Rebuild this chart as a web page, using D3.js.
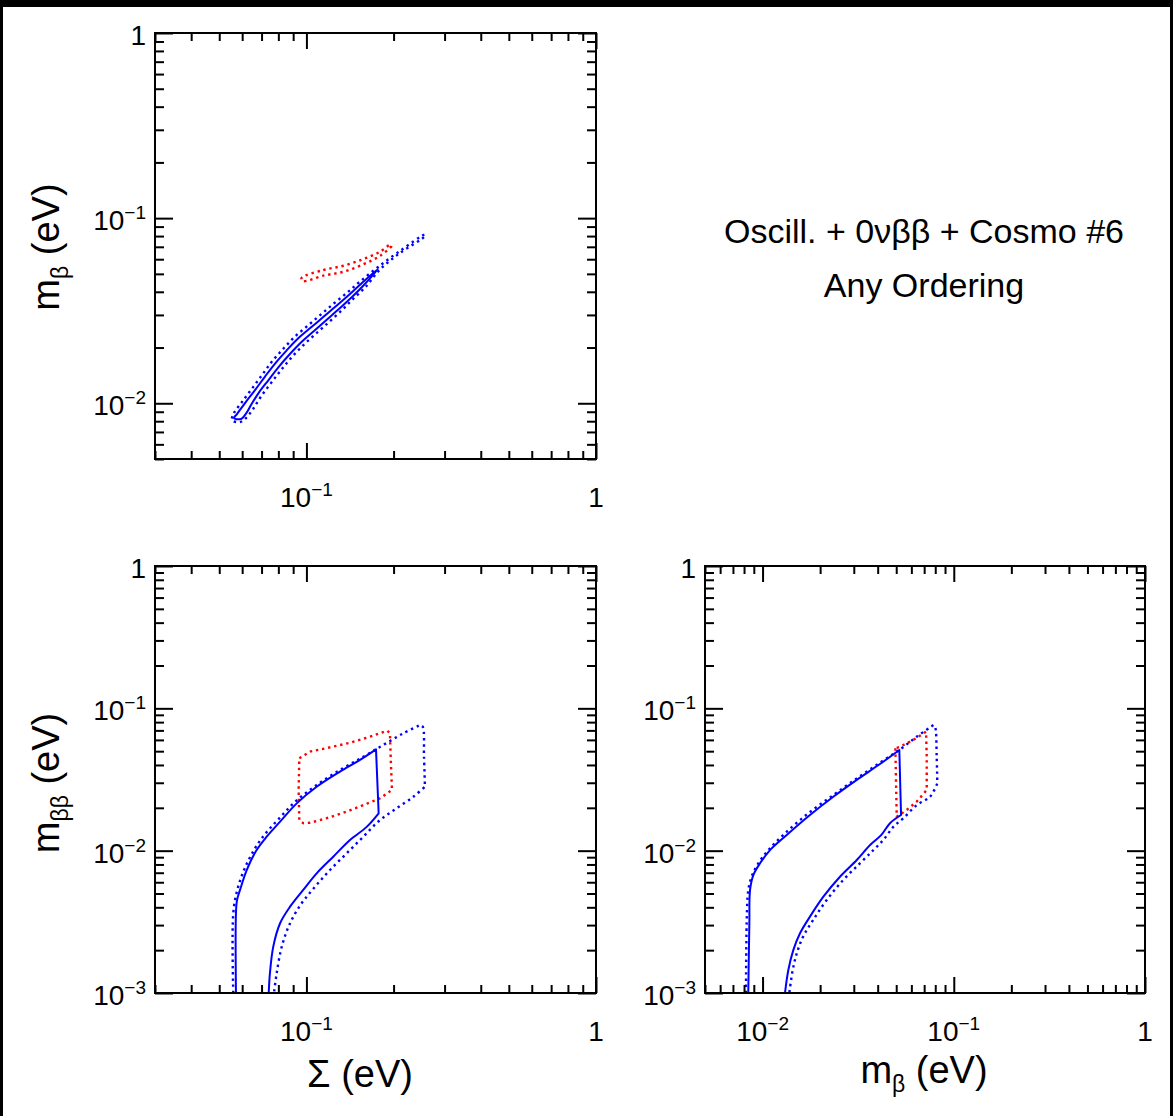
<!DOCTYPE html>
<html><head><meta charset="utf-8">
<script src="https://cdn.jsdelivr.net/npm/d3@7"></script>
<style>html,body{margin:0;padding:0;background:#fff;} svg{display:block;} text{font-family:"Liberation Sans",Arial,Helvetica,sans-serif;fill:#000;}</style>
</head><body><svg id="c" width="1173" height="1116"></svg>
<script>
// ---------------- DATA ----------------
// Top panel: m_beta vs Sigma
const topNOsolidSum = [0.05622,0.05757,0.06137,0.06645,0.07194,0.07792,0.08535,0.09352,0.1041,0.1159,0.1285,0.1414,0.1555,0.1767,
  0.1568,0.1437,0.1306,0.1178,0.1062,0.09577,0.0874,0.08012,0.07396,0.06833,0.06437,0.06235,0.05943];
const topNOsolidMb  = [0.00832,0.00874,0.01003,0.01178,0.01394,0.01639,0.01926,0.02236,0.0258,0.02977,0.03413,0.0389,0.04461,0.05309,
  0.04297,0.03748,0.03268,0.02833,0.02455,0.02128,0.01833,0.01569,0.01335,0.01135,0.00978,0.00896,0.00822];
const topNOdotSum = [0.05534,0.05622,0.0599,0.06486,0.07025,0.07603,0.08333,0.09131,0.1017,0.1132,0.1255,0.1391,0.1531,0.1767,0.2103,0.2566,
  0.2566,0.2103,0.1795,0.1593,0.1448,0.1327,0.1197,0.1079,0.0973,0.08845,0.08171,0.07543,0.06967,0.0654,0.06185,0.05897];
const topNOdotMb  = [0.00811,0.00885,0.01015,0.012,0.0142,0.0168,0.01975,0.02293,0.02646,0.03052,0.035,0.03989,0.04545,0.05441,0.06645,0.08153,
  0.08003,0.06481,0.05277,0.04218,0.03656,0.03188,0.02746,0.02379,0.0205,0.01754,0.01511,0.01285,0.01087,0.0093,0.00832,0.00791];
const topIOdotSum = [0.0963,0.1143,0.134,0.1572,0.1795,0.1943,0.197,0.1795,0.1572,0.134,0.1143,0.097];
const topIOdotMb  = [0.0476,0.0524,0.0553,0.0601,0.0658,0.0716,0.071,0.0626,0.0563,0.0513,0.0489,0.0457];

// Bottom-left panel: m_betabeta vs Sigma
const blNOsolidSum = [0.0571,0.0571,0.0576,0.0590,0.0622,0.0673,0.0729,0.0811,0.0926,0.1085,0.1306,0.1531,0.1739,
  0.1776,0.1615,0.1414,0.1238,0.1085,0.0975,0.0878,0.0811,0.0768,0.0748,0.0741];
const blNOsolidMbb = [0.001,0.00363,0.0045,0.0053,0.00731,0.0101,0.01254,0.0160,0.0215,0.0281,0.0359,0.0434,0.0515,
  0.0183,0.0147,0.01188,0.00907,0.00693,0.0053,0.00404,0.00309,0.00211,0.00137,0.001];
const blNOdotSum = [0.0559,0.0559,0.05771,0.06088,0.06592,0.07155,0.07999,0.09154,0.1085,0.1306,0.1572,0.1842,0.2160,0.2467,
  0.2521,0.2547,0.2566,0.2339,0.2049,0.1795,0.1572,0.1377,0.1206,0.1071,0.0963,0.0878,0.08216,0.07891,0.07727];
const blNOdotMbb = [0.001,0.00363,0.00529,0.00731,0.0101,0.0129,0.0166,0.02208,0.02893,0.03687,0.0457,0.05527,0.06677,0.07635,
  0.0743,0.0457,0.02814,0.0239,0.01985,0.0164,0.01253,0.00958,0.00731,0.00558,0.00427,0.00309,0.00211,0.00137,0.001];
const blIOdotSum = [0.0945,0.1029,0.1206,0.1414,0.1658,0.1902,0.1943,0.1954,0.1974,0.1795,0.1572,0.1377,0.1175,0.1029,0.0975,0.0945,0.0940];
const blIOdotMbb = [0.0446,0.0496,0.0532,0.0573,0.0632,0.0697,0.0668,0.0457,0.0267,0.0233,0.0209,0.0188,0.0169,0.0157,0.0156,0.0164,0.0267];

// Bottom-right panel: m_betabeta vs m_beta
const brNOsolidMb  = [0.00842,0.00853,0.0086,0.00895,0.0097,0.01094,0.01338,0.0177,0.02344,0.0311,0.0411,0.0519,
  0.0530,0.0464,0.0418,0.0365,0.0311,0.0254,0.0208,0.0177,0.0157,0.01448,0.01364,0.0131];
const brNOsolidMbb = [0.001,0.00309,0.00529,0.00674,0.00815,0.0101,0.0129,0.0178,0.0239,0.0314,0.0406,0.0510,
  0.0178,0.0156,0.0129,0.01096,0.0086,0.00656,0.00475,0.00344,0.00263,0.0020,0.00145,0.001];
const brNOdotMb  = [0.00819,0.00826,0.00842,0.00877,0.0095,0.01072,0.0131,0.01735,0.02344,0.0311,0.0411,0.0524,0.0640,0.0782,
  0.0798,0.0814,0.0820,0.0751,0.0640,0.0545,0.0483,0.0428,0.0380,0.0323,0.0264,0.02165,0.0184,0.0163,0.0151,0.01438,0.0138];
const brNOdotMbb = [0.001,0.00309,0.00529,0.00656,0.00815,0.0101,0.01324,0.0183,0.0246,0.0322,0.0415,0.0515,0.0632,0.0763,
  0.0743,0.0457,0.0297,0.0239,0.0209,0.0169,0.0147,0.01188,0.0101,0.00815,0.00622,0.0045,0.00326,0.00249,0.0019,0.00145,0.001];
const brIOdotMb  = [0.0495,0.0499,0.0503,0.0567,0.0640,0.0722,0.0722,0.0716,0.0614,0.0524];
const brIOdotMbb = [0.0524,0.0297,0.0173,0.0193,0.0221,0.0267,0.0457,0.0685,0.0599,0.0538];

// Tick label values
const topXLabels = [0.1, 1];
const topYLabels = [0.01, 0.1, 1];
const blXLabels = [0.1, 1];
const blYLabels = [0.001, 0.01, 0.1, 1];
const brXLabels = [0.01, 0.1, 1];
const brYLabels = [0.001, 0.01, 0.1, 1];

const titleLines = ["Oscill. + 0\u03BD\u03B2\u03B2 + Cosmo #6", "Any Ordering"];

// ---------------- DRAWING ----------------
const W = 1173, H = 1116;
const svg = d3.select("#c");
svg.append("rect").attr("width", W).attr("height", H).attr("fill", "#fff");
svg.append("rect").attr("x", 0).attr("y", 0).attr("width", W).attr("height", 7).attr("fill", "#000");
svg.append("rect").attr("x", 0).attr("y", 0).attr("width", 3).attr("height", H).attr("fill", "#000");
svg.append("rect").attr("x", W - 3).attr("y", 0).attr("width", 3).attr("height", H).attr("fill", "#000");

const BLUE = "#0000ff", RED = "#ff0000";
const isMajor = v => Math.abs(Math.log10(v) - Math.round(Math.log10(v))) < 1e-6;

function addTickLabel(g, px, py, v, anchor) {
  const t = g.append("text").attr("x", px).attr("y", py).attr("text-anchor", anchor)
    .style("font-size", "28px");
  if (Math.abs(v - 1) < 1e-9) { t.text("1"); return; }
  const e = Math.round(Math.log10(v));
  t.append("tspan").text("10");
  t.append("tspan").attr("dy", -11).style("font-size", "19px").text("\u2212" + Math.abs(e));
}

let clipN = 0;
function panel(cfg) {
  const x = d3.scaleLog().domain(cfg.xd).range([cfg.l, cfg.r]);
  const y = d3.scaleLog().domain(cfg.yd).range([cfg.b, cfg.t]);
  const g = svg.append("g");
  const id = "clip" + (clipN++);
  g.append("clipPath").attr("id", id).append("rect")
    .attr("x", cfg.l).attr("y", cfg.t).attr("width", cfg.r - cfg.l).attr("height", cfg.b - cfg.t);
  const cg = g.append("g").attr("clip-path", `url(#${id})`);
  cfg.curves.forEach(c => {
    const pts = d3.zip(c.xs, c.ys);
    const style = p => p.attr("fill", "none").attr("stroke", c.color)
      .attr("stroke-width", c.dotted ? 2.4 : 2)
      .attr("stroke-dasharray", c.dotted ? "2.4 3.8" : null)
      .attr("stroke-linejoin", "round");
    if (!c.smooth) {
      const line = d3.line().x(d => x(d[0])).y(d => y(d[1]))
        .curve(c.closed ? d3.curveLinearClosed : d3.curveLinear);
      style(cg.append("path").attr("d", line(pts)));
      return;
    }
    if (c.closed && !c.breaks) {
      const line = d3.line().x(d => x(d[0])).y(d => y(d[1])).curve(d3.curveCatmullRomClosed.alpha(0.5));
      style(cg.append("path").attr("d", line(pts)));
      return;
    }
    // open smooth curve split at sharp corners
    const idx = [0, ...(c.breaks || []), pts.length - 1];
    const line = d3.line().x(d => x(d[0])).y(d => y(d[1])).curve(d3.curveCatmullRom.alpha(0.5));
    let dStr = "";
    for (let k = 0; k < idx.length - 1; k++) {
      const seg = line(pts.slice(idx[k], idx[k + 1] + 1));
      dStr += k === 0 ? seg : seg.replace(/^M[^CLZ]*/, "");
    }
    style(cg.append("path").attr("d", dStr));
  });

  // ticks (inward, all 4 sides)
  const xt = x.ticks(), yt = y.ticks();
  const xMaj = xt.filter(isMajor), xMin = xt.filter(v => !isMajor(v));
  const yMaj = yt.filter(isMajor), yMin = yt.filter(v => !isMajor(v));
  const ax = (gen, tr) => {
    const a = g.append("g").attr("transform", tr).call(gen);
    a.select(".domain").remove();
    a.selectAll("line").attr("stroke", "#000").attr("stroke-width", 2);
  };
  ax(d3.axisBottom(x).tickValues(xMin).tickSize(-8).tickFormat(""), `translate(0,${cfg.b})`);
  ax(d3.axisBottom(x).tickValues(xMaj).tickSize(-16).tickFormat(""), `translate(0,${cfg.b})`);
  ax(d3.axisTop(x).tickValues(xMin).tickSize(-8).tickFormat(""), `translate(0,${cfg.t})`);
  ax(d3.axisTop(x).tickValues(xMaj).tickSize(-16).tickFormat(""), `translate(0,${cfg.t})`);
  ax(d3.axisLeft(y).tickValues(yMin).tickSize(-9).tickFormat(""), `translate(${cfg.l},0)`);
  ax(d3.axisLeft(y).tickValues(yMaj).tickSize(-18).tickFormat(""), `translate(${cfg.l},0)`);
  ax(d3.axisRight(y).tickValues(yMin).tickSize(-9).tickFormat(""), `translate(${cfg.r},0)`);
  ax(d3.axisRight(y).tickValues(yMaj).tickSize(-18).tickFormat(""), `translate(${cfg.r},0)`);

  g.append("rect").attr("x", cfg.l).attr("y", cfg.t).attr("width", cfg.r - cfg.l).attr("height", cfg.b - cfg.t)
    .attr("fill", "none").attr("stroke", "#000").attr("stroke-width", 2);

  cfg.xLabels.forEach(v => addTickLabel(g, x(v), cfg.b + 48, v, "middle"));
  cfg.yLabels.forEach(v => addTickLabel(g, cfg.l - 9, y(v) + 12, v, "end"));
  return { x, y, g };
}

panel({ l: 155, r: 596, t: 33, b: 459, xd: [0.03, 1], yd: [0.005, 1],
  xLabels: topXLabels, yLabels: topYLabels,
  curves: [
    { xs: topIOdotSum, ys: topIOdotMb, color: RED, dotted: true, closed: true, smooth: true },
    { xs: topNOdotSum, ys: topNOdotMb, color: BLUE, dotted: true, closed: true, smooth: true },
    { xs: topNOsolidSum, ys: topNOsolidMb, color: BLUE, dotted: false, closed: true, smooth: true }
  ] });

panel({ l: 155, r: 596, t: 566, b: 993, xd: [0.03, 1], yd: [0.001, 1],
  xLabels: blXLabels, yLabels: blYLabels,
  curves: [
    { xs: blIOdotSum, ys: blIOdotMbb, color: RED, dotted: true, closed: true, smooth: false },
    { xs: blNOdotSum, ys: blNOdotMbb, color: BLUE, dotted: true, closed: false, smooth: true, breaks: [13, 16] },
    { xs: blNOsolidSum, ys: blNOsolidMbb, color: BLUE, dotted: false, closed: false, smooth: true, breaks: [12, 13] }
  ] });

panel({ l: 705, r: 1145, t: 566, b: 993, xd: [0.005, 1], yd: [0.001, 1],
  xLabels: brXLabels, yLabels: brYLabels,
  curves: [
    { xs: brIOdotMb, ys: brIOdotMbb, color: RED, dotted: true, closed: true, smooth: false },
    { xs: brNOdotMb, ys: brNOdotMbb, color: BLUE, dotted: true, closed: false, smooth: true, breaks: [13, 16] },
    { xs: brNOsolidMb, ys: brNOsolidMbb, color: BLUE, dotted: false, closed: false, smooth: true, breaks: [11, 12] }
  ] });

// Axis titles
function titleWithSub(px, py, sub, rotate) {
  const t = svg.append("text").attr("text-anchor", "middle").style("font-size", "38px");
  if (rotate) t.attr("transform", `translate(${px},${py}) rotate(-90)`);
  else t.attr("x", px).attr("y", py);
  t.append("tspan").text("m");
  t.append("tspan").attr("dy", 9).style("font-size", "23px").text(sub);
  t.append("tspan").attr("dy", -9).text(" (eV)");
}
titleWithSub(59, 247, "\u03B2", true);
titleWithSub(59, 783, "\u03B2\u03B2", true);
titleWithSub(924, 1083, "\u03B2", false);
svg.append("text").attr("x", 360).attr("y", 1087).attr("text-anchor", "middle").style("font-size", "38px").text("\u03A3 (eV)");

// Text block
titleLines.forEach((s, i) => {
  svg.append("text").attr("x", 924).attr("y", 243 + i * 54).attr("text-anchor", "middle")
    .style("font-size", "34px").text(s);
});
</script></body></html>
